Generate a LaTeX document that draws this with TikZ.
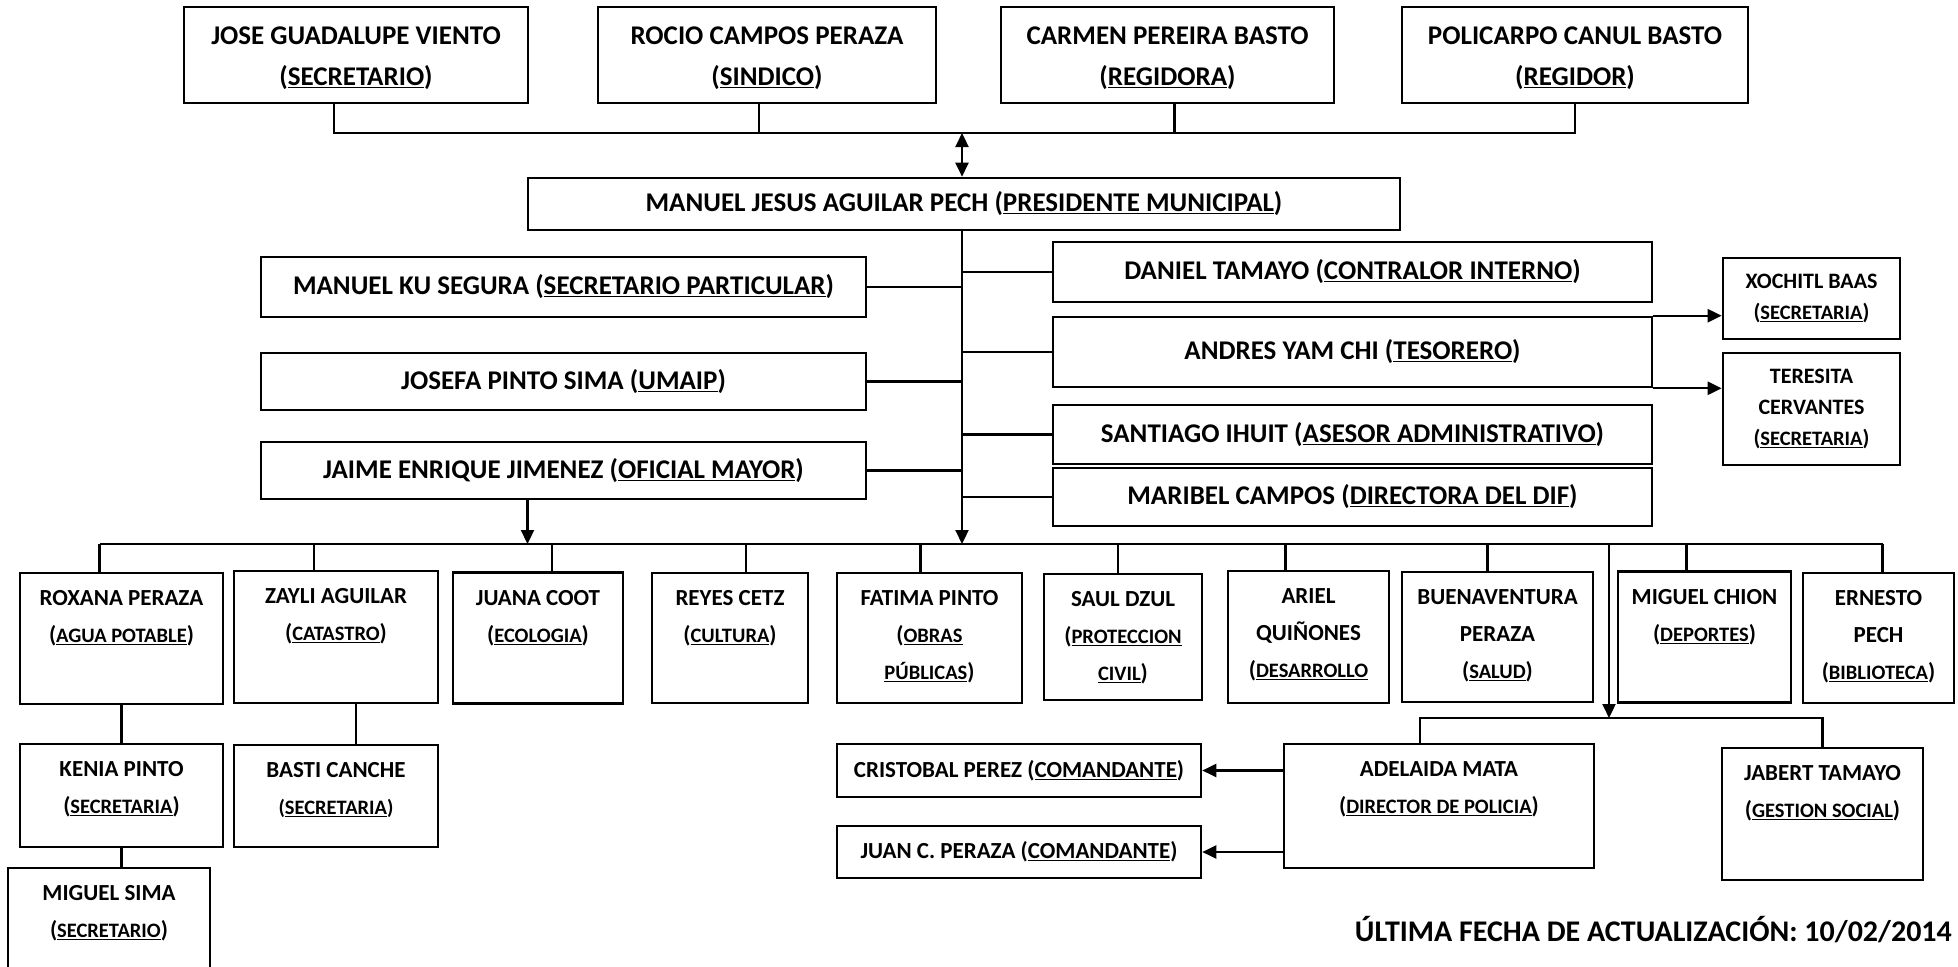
\documentclass[tikz,border=0pt]{standalone}
\usepackage{fontspec}
\setmainfont{Carlito}
\usetikzlibrary{arrows.meta,calc}

\newcommand{\rs}{\fontsize{20.5}{36}\selectfont}
\newcommand{\cargo}[1]{(\underline{#1})}
\newcommand{\cargoch}[1]{(\underline{\rs #1})}

\tikzset{
  caja/.style={draw, line width=2.6pt, inner sep=0pt, align=center,
    font=\fontsize{27}{40}\selectfont\bfseries},
  secre/.style={draw, line width=2.6pt, inner sep=0pt, align=center,
    font=\fontsize{22}{31}\selectfont\bfseries},
  mando/.style={draw, line width=2.6pt, inner sep=0pt,
    font=\fontsize{23}{30}\selectfont\bfseries},
  unidad/.style={draw, line width=2.6pt, inner sep=0pt},
  txtg/.style={anchor=north, inner sep=0pt, yshift=-21pt, align=center,
    font=\fontsize{27}{41}\selectfont\bfseries},
  txt/.style={anchor=north, inner sep=0pt, yshift=-19pt, align=center,
    font=\fontsize{23}{37}\selectfont\bfseries},
  linea/.style={line width=2.2pt},
  flecha/.style={line width=2.2pt, -{Triangle[length=14pt,width=13pt]}},
  doble/.style={line width=2.2pt, {Triangle[length=14pt,width=13pt]}-{Triangle[length=14pt,width=13pt]}}
}

\begin{document}
\begin{tikzpicture}[x=1pt, y=-1pt]
  \clip (0,0) rectangle (1958,966);
  \fill[white] (0,0) rectangle (1958,966);

  % cabildo
  \node[unidad, minimum width=344pt, minimum height=96pt, label={[txtg]north:JOSE GUADALUPE VIENTO\\\cargo{SECRETARIO}}] (jose) at (356,55) {};
  \node[unidad, minimum width=338pt, minimum height=96pt, label={[txtg]north:ROCIO CAMPOS PERAZA\\\cargo{SINDICO}}] (rocio) at (767,55) {};
  \node[unidad, minimum width=333pt, minimum height=96pt, label={[txtg]north:CARMEN PEREIRA BASTO\\\cargo{REGIDORA}}] (carmen) at (1167.5,55) {};
  \node[unidad, minimum width=346pt, minimum height=96pt, label={[txtg]north:POLICARPO CANUL BASTO\\\cargo{REGIDOR}}] (policarpo) at (1575,55) {};

  \node[caja, minimum width=872pt, minimum height=52pt] (presidente) at (964,204) {MANUEL JESUS AGUILAR PECH \cargo{PRESIDENTE MUNICIPAL}};

  \coordinate (cabildo) at (962,133);
  \draw[linea] ($(jose.south)+(-22,0)$) |- (cabildo) -| (policarpo.south);
  \draw[linea] ($(rocio.south)+(-8,0)$) -- ($(rocio.south |- cabildo)+(-8,0)$);
  \draw[linea] ($(carmen.south)+(7,0)$) -- ($(carmen.south |- cabildo)+(7,0)$);
  \draw[doble] (cabildo) -- (cabildo |- presidente.north);

  % staff
  \node[caja, minimum width=605pt, minimum height=60pt] (secpart) at (563.5,287) {MANUEL KU SEGURA \cargo{SECRETARIO PARTICULAR}};
  \node[caja, minimum width=605pt, minimum height=57pt] (umaip) at (563.5,381.5) {JOSEFA PINTO SIMA \cargo{UMAIP}};
  \node[caja, minimum width=605pt, minimum height=57pt] (oficial) at (563.5,470.5) {JAIME ENRIQUE JIMENEZ \cargo{OFICIAL MAYOR}};

  \node[caja, minimum width=599pt, minimum height=60pt] (contralor) at (1352.5,272) {DANIEL TAMAYO \cargo{CONTRALOR INTERNO}};
  \node[caja, minimum width=599pt, minimum height=70pt] (tesorero) at (1352.5,352) {ANDRES YAM CHI \cargo{TESORERO}};
  \node[caja, minimum width=599pt, minimum height=59pt] (asesor) at (1352.5,434.5) {SANTIAGO IHUIT \cargo{ASESOR ADMINISTRATIVO}};
  \node[caja, minimum width=599pt, minimum height=58pt] (dif) at (1352.5,497) {MARIBEL CAMPOS \cargo{DIRECTORA DEL DIF}};

  \node[secre, minimum width=177pt, minimum height=81pt] (xochitl) at (1811.5,298.5) {XOCHITL BAAS\\\cargoch{SECRETARIA}};
  \node[secre, minimum width=177pt, minimum height=112pt] (teresita) at (1811.5,409) {TERESITA\\CERVANTES\\\cargoch{SECRETARIA}};

  \coordinate (barra) at (962,544);
  \draw[flecha] (presidente.south -| barra) -- (barra);
  \draw[linea] (secpart.east) -- (secpart.east -| barra);
  \draw[linea] (umaip.east) -- (umaip.east -| barra);
  \draw[linea] (oficial.east) -- (oficial.east -| barra);
  \draw[linea] (contralor.west) -- (contralor.west -| barra);
  \draw[linea] (tesorero.west) -- (tesorero.west -| barra);
  \draw[linea] (asesor.west) -- (asesor.west -| barra);
  \draw[linea] (dif.west) -- (dif.west -| barra);
  \draw[flecha] (tesorero.north east) -- (tesorero.north east -| xochitl.west);
  \draw[flecha] (tesorero.south east) -- (tesorero.south east -| teresita.west);
  \draw[flecha] ($(oficial.south)+(-36,0)$) -- ($(oficial.south |- barra)+(-36,0)$);

  % direcciones
  \node[unidad, minimum width=203pt, minimum height=131pt, label={[txt]north:ROXANA PERAZA\\\cargoch{AGUA POTABLE}}] (roxana) at (121.5,638.5) {};
  \node[unidad, minimum width=204pt, minimum height=132pt, label={[txt]north:ZAYLI AGUILAR\\\cargoch{CATASTRO}}] (zayli) at (336,637) {};
  \node[unidad, minimum width=170pt, minimum height=131pt, label={[txt]north:JUANA COOT\\\cargoch{ECOLOGIA}}] (juana) at (538,638) {};
  \node[unidad, minimum width=156pt, minimum height=130pt, label={[txt]north:REYES CETZ\\\cargoch{CULTURA}}] (reyes) at (730,638) {};
  \node[unidad, minimum width=185pt, minimum height=130pt, label={[txt]north:FATIMA PINTO\\(\underline{\rs OBRAS}\\\underline{\rs PÚBLICAS})}] (fatima) at (929.5,638) {};
  \node[unidad, minimum width=158pt, minimum height=126pt, label={[txt]north:SAUL DZUL\\(\underline{\rs PROTECCION}\\\underline{\rs CIVIL})}] (saul) at (1123,637) {};
  \node[unidad, minimum width=161pt, minimum height=132pt, label={[txt]north:ARIEL\\QUIÑONES\\(\underline{\rs DESARROLLO}}] (ariel) at (1308.5,637) {};
  \node[unidad, minimum width=191pt, minimum height=130pt, label={[txt]north:BUENAVENTURA\\PERAZA\\\cargoch{SALUD}}] (buena) at (1497.5,637) {};
  \node[unidad, minimum width=173pt, minimum height=131pt, label={[txt]north:MIGUEL CHION\\\cargoch{DEPORTES}}] (chion) at (1704.5,637) {};
  \node[unidad, minimum width=151pt, minimum height=130pt, label={[txt]north:ERNESTO\\PECH\\\cargoch{BIBLIOTECA}}] (ernesto) at (1878.5,638) {};

  \draw[linea] ($(roxana.north |- barra)+(-22,0)$) -- ($(ernesto.north |- barra)+(4,0)$);
  \foreach \n/\dx in {roxana/-22, zayli/-22, juana/14, reyes/16, fatima/-9, saul/-5, ariel/-23, buena/-10, chion/-18, ernesto/4}
    \draw[linea] ($(\n.north)+(\dx,0)$) -- ($(\n.north |- barra)+(\dx,0)$);

  % secretarias
  \node[unidad, minimum width=203pt, minimum height=103pt, label={[txt]north:KENIA PINTO\\\cargoch{SECRETARIA}}] (kenia) at (121.5,795.5) {};
  \node[unidad, minimum width=204pt, minimum height=102pt, label={[txt]north:BASTI CANCHE\\{\rs(\underline{SECRETARIA})}}] (basti) at (336,796) {};
  \node[unidad, minimum width=202pt, minimum height=132pt, label={[txt]north:MIGUEL SIMA\\\cargoch{SECRETARIO}}] (sima) at (109,934) {};
  \draw[linea] (roxana.south) -- (kenia.north);
  \draw[linea] (kenia.south) -- (kenia.south |- sima.north);
  \draw[linea] ($(zayli.south)+(20,0)$) -- ($(zayli.south |- basti.north)+(20,0)$);

  % policia
  \node[unidad, minimum width=310pt, minimum height=124pt, label={[txt]north:ADELAIDA MATA\\\cargoch{DIRECTOR DE POLICIA}}] (adelaida) at (1439,806) {};
  \node[unidad, minimum width=201pt, minimum height=132pt, label={[txt]north:JABERT TAMAYO\\\cargoch{GESTION SOCIAL}}] (jabert) at (1822.5,814) {};
  \node[mando, minimum width=364pt, minimum height=53pt] (cristobal) at (1019,770.5) {CRISTOBAL PEREZ \cargo{COMANDANTE}};
  \node[mando, minimum width=364pt, minimum height=52pt] (juanc) at (1019,852) {JUAN C. PERAZA \cargo{COMANDANTE}};

  \coordinate (policia) at (1609,718);
  \draw[flecha] (policia |- barra) -- (policia);
  \draw[linea] ($(adelaida.north)+(-19,0)$) |- (jabert.north |- policia) -- (jabert.north);
  \draw[flecha] (adelaida.west |- cristobal.east) -- (cristobal.east);
  \draw[flecha] (adelaida.west |- juanc.east) -- (juanc.east);

  \node[anchor=east, inner sep=0pt, font=\fontsize{30}{34}\selectfont\bfseries] (fecha) at (1952,930) {ÚLTIMA FECHA DE ACTUALIZACIÓN: 10/02/2014};
\end{tikzpicture}
\end{document}
